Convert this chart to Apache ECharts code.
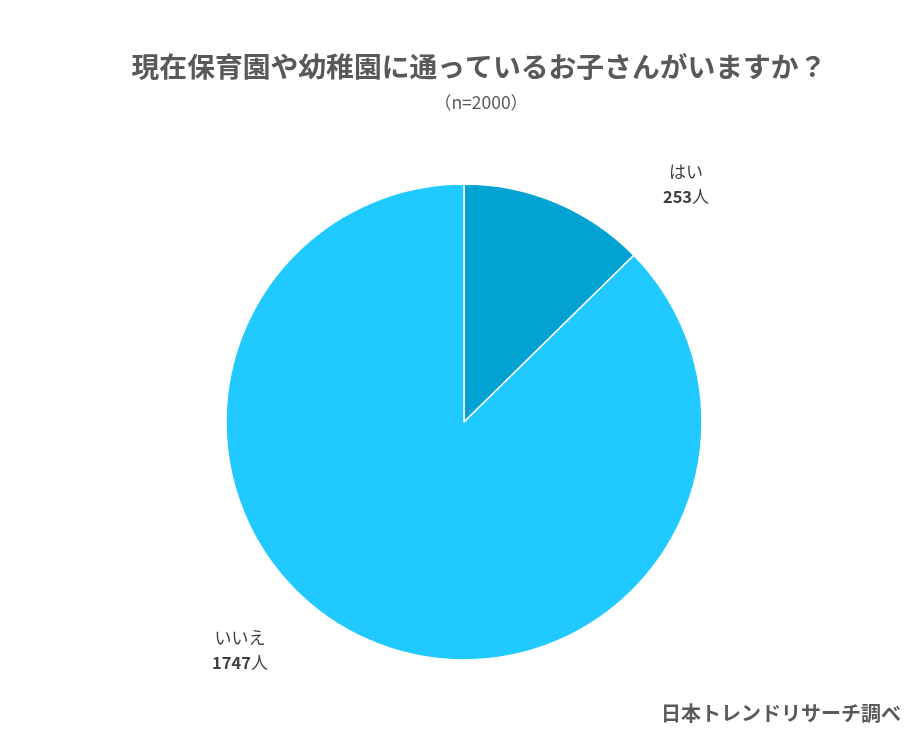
<!DOCTYPE html>
<html><head><meta charset="utf-8">
<script src="https://cdn.jsdelivr.net/npm/echarts@6/dist/echarts.min.js"></script>
<style>html,body{margin:0;padding:0;background:#fff}#c{width:917px;height:741px}</style>
</head><body><div id="c"></div>
<script>
const categories = ['はい', 'いいえ'];
const values = [253, 1747];
const colors = ['#02A2D3', '#20C9FF'];
const titleText = '現在保育園や幼稚園に通っているお子さんがいますか？';
const subText = '（n=2000）';
const sourceText = '日本トレンドリサーチ調べ';

const font = '"Noto Sans CJK JP", "Noto Sans", sans-serif';
const labelPos = [[686, 184], [240, 650]];

const chart = echarts.init(document.getElementById('c'), null, {renderer: 'canvas'});
chart.setOption({
  backgroundColor: '#fff',
  animation: false,
  title: [{
    text: titleText,
    left: 474, top: 48, textAlign: 'center',
    textStyle: {fontFamily: font, fontWeight: 'bold', fontSize: 27.8, color: '#595959'}
  }, {
    text: subText,
    left: 476, top: 89, textAlign: 'center',
    textStyle: {fontFamily: font, fontWeight: 'normal', fontSize: 17.5, color: '#595959'}
  }, {
    text: sourceText,
    right: 11, top: 698,
    textStyle: {fontFamily: font, fontWeight: 'bold', fontSize: 20, color: '#595959'}
  }],
  series: [{
    type: 'pie',
    center: [464, 422],
    radius: 238,
    startAngle: 90,
    clockwise: true,
    data: categories.map((n, i) => ({name: n, value: values[i], itemStyle: {color: colors[i]}})),
    itemStyle: {borderColor: '#fff', borderWidth: 1.5},
    label: {
      show: true,
      position: 'outside',
      formatter: p => '{n|' + p.name + '}\n{v|' + p.value + '}{u|人}',
      align: 'center',
      rich: {
        n: {fontFamily: font, fontSize: 17, color: '#404040', lineHeight: 25, align: 'center'},
        v: {fontFamily: font, fontSize: 16.5, fontWeight: 'bold', color: '#404040', lineHeight: 25},
        u: {fontFamily: font, fontSize: 17, color: '#404040', lineHeight: 25}
      }
    },
    labelLine: {show: false},
    labelLayout: p => ({x: labelPos[p.dataIndex][0], y: labelPos[p.dataIndex][1], align: 'center', verticalAlign: 'middle'})
  }]
});
</script></body></html>
